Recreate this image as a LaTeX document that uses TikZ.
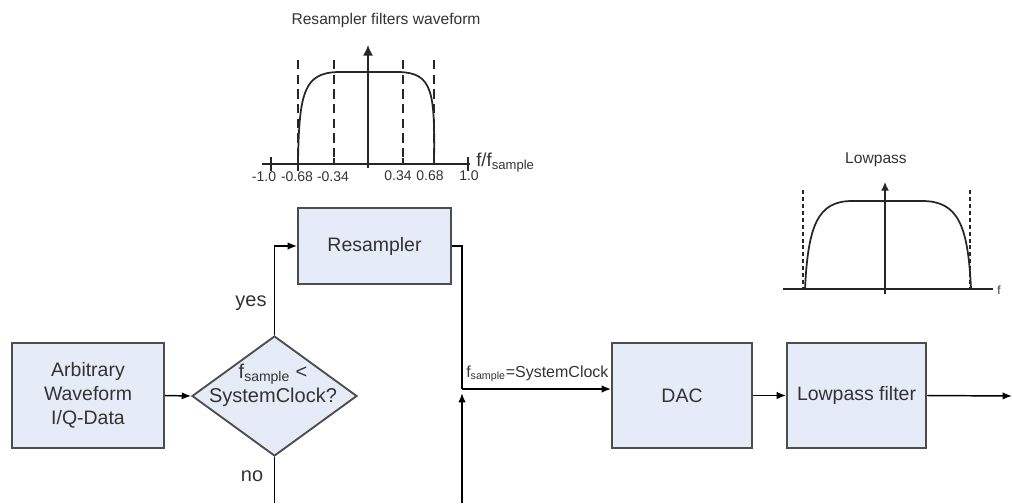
\documentclass[tikz,border=0pt]{standalone}
\usepackage{fontspec}
\setmainfont{Liberation Sans}
\usetikzlibrary{shapes.geometric,arrows.meta}
\definecolor{boxfill}{HTML}{E6ECF7}
\definecolor{boxline}{HTML}{4D4D4D}
\definecolor{txt}{HTML}{333333}
\begin{document}
\begin{tikzpicture}[x=0.75pt,y=-0.75pt,
  block/.style={draw=boxline, line width=1.4pt, fill=boxfill, text=txt,
    font=\fontsize{14.6}{18}\selectfont, align=center, inner sep=0pt},
  conn/.style={line width=1.1pt, draw=black},
  arr/.style={conn, -{Latex[length=7pt,width=5.5pt]}},
  axisline/.style={line width=1.1pt, draw=black!85},
  dashline/.style={line width=1pt, draw=black!85, dash pattern=on 7pt off 4pt},
  fineDash/.style={line width=0.9pt, draw=black!85, dash pattern=on 3pt off 2.2pt},
  curve/.style={line width=1.3pt, draw=black!85},
  lbl/.style={text=txt, font=\fontsize{15}{18}\selectfont, inner sep=0pt},
  ticklbl/.style={text=txt, font=\fontsize{10.5}{12}\selectfont, inner sep=0pt},
  title/.style={text=txt, font=\fontsize{11.7}{14}\selectfont, inner sep=0pt}]
\useasboundingbox (0,0) rectangle (1012,503);

% ---------- blocks ----------
\node[block, minimum width=114pt, minimum height=78.75pt] (arb) at (88,395.5)
  {Arbitrary\\Waveform\\I/Q-Data};
\node[diamond, draw=boxline, line width=1.4pt, fill=boxfill, minimum width=123.75pt,
  minimum height=90pt, inner sep=0pt] (dec) at (274.5,396) {};
\node[text=txt, font=\fontsize{15}{18}\selectfont, align=center, inner sep=0pt]
  (dectext) at (273,385) {f\textsubscript{sample} <\\SystemClock?};
\node[block, minimum width=114.75pt, minimum height=57pt] (res) at (374.5,246) {Resampler};
\node[block, minimum width=105pt, minimum height=78.75pt] (dac) at (682,395.5) {DAC};
\node[block, minimum width=104.25pt, minimum height=78.75pt] (lp) at (856.5,395.5) {Lowpass filter};

\coordinate (j) at (462,389);
\coordinate (botA) at (274.5,503);
\coordinate (botB) at (462,503);
\coordinate (out) at (1012,396);

% ---------- connectors ----------
\draw[arr] (arb.east) -- (dec.west);
\draw[arr] (dec.north) |- (res.west);
\draw[conn] (res.east) -| (j);
\draw[arr] (botB) -- ([yshift=-3pt]j);
\draw[arr] (j) -- (j -| dac.west);
\draw[conn] (dec.south) -- (botA);
\draw[arr] (dac.east) -- (lp.west);
\draw[arr] (lp.east) -- (out);

\node[lbl] (yes) at (251,303) {yes};
\node[lbl] (no) at (252,476) {no};
\node[text=txt, font=\fontsize{12}{14}\selectfont, inner sep=0pt, anchor=base west]
  (fs) at (466,377) {f\textsubscript{sample}=SystemClock};

% ---------- resampler filter plot ----------
\node[title] (t1) at (386,20) {Resampler filters waveform};
\foreach \x in {298,334,403,434} \draw[dashline] (\x,60) -- (\x,164);
\draw[axisline] (262,164) -- (470,164);
\draw[axisline,-{Latex[length=8pt,width=7.5pt]}] (368,168) -- (368,45);
\foreach \x in {271,298,468} \draw[axisline] (\x,157) -- (\x,171);
\foreach \x in {334,403} \draw[axisline] (\x,158) -- (\x,164);
\draw[curve] (298,164) .. controls (299,92) and (304,73) .. (338,72) -- (399,72)
  .. controls (433,73) and (435,92) .. (434,164);
\node[ticklbl] (l1) at (264,177) {-1.0};
\node[ticklbl] (l2) at (297,177) {-0.68};
\node[ticklbl] (l3) at (333,177) {-0.34};
\node[ticklbl] (l4) at (398,176) {0.34};
\node[ticklbl] (l5) at (430,176) {0.68};
\node[ticklbl] (l6) at (469,176) {1.0};
\node[text=txt, font=\fontsize{14}{16}\selectfont, inner sep=0pt, anchor=west]
  (ff) at (476,163) {f/f\textsubscript{sample}};

% ---------- lowpass plot ----------
\node[title] (t2) at (876,160) {Lowpass};
\foreach \x in {803,970} \draw[fineDash] (\x,190) -- (\x,289);
\draw[axisline] (783,289) -- (993,289);
\draw[axisline,-{Latex[length=6.5pt,width=6pt]}] (885,294) -- (885,182);
\draw[curve] (805,289) .. controls (808,225) and (818,201) .. (852,201) -- (922,201)
  .. controls (958,201) and (968,225) .. (971,289);
\node[text=txt, font=\fontsize{9}{10}\selectfont, inner sep=0pt] (fl) at (999,290) {f};
\end{tikzpicture}
\end{document}
